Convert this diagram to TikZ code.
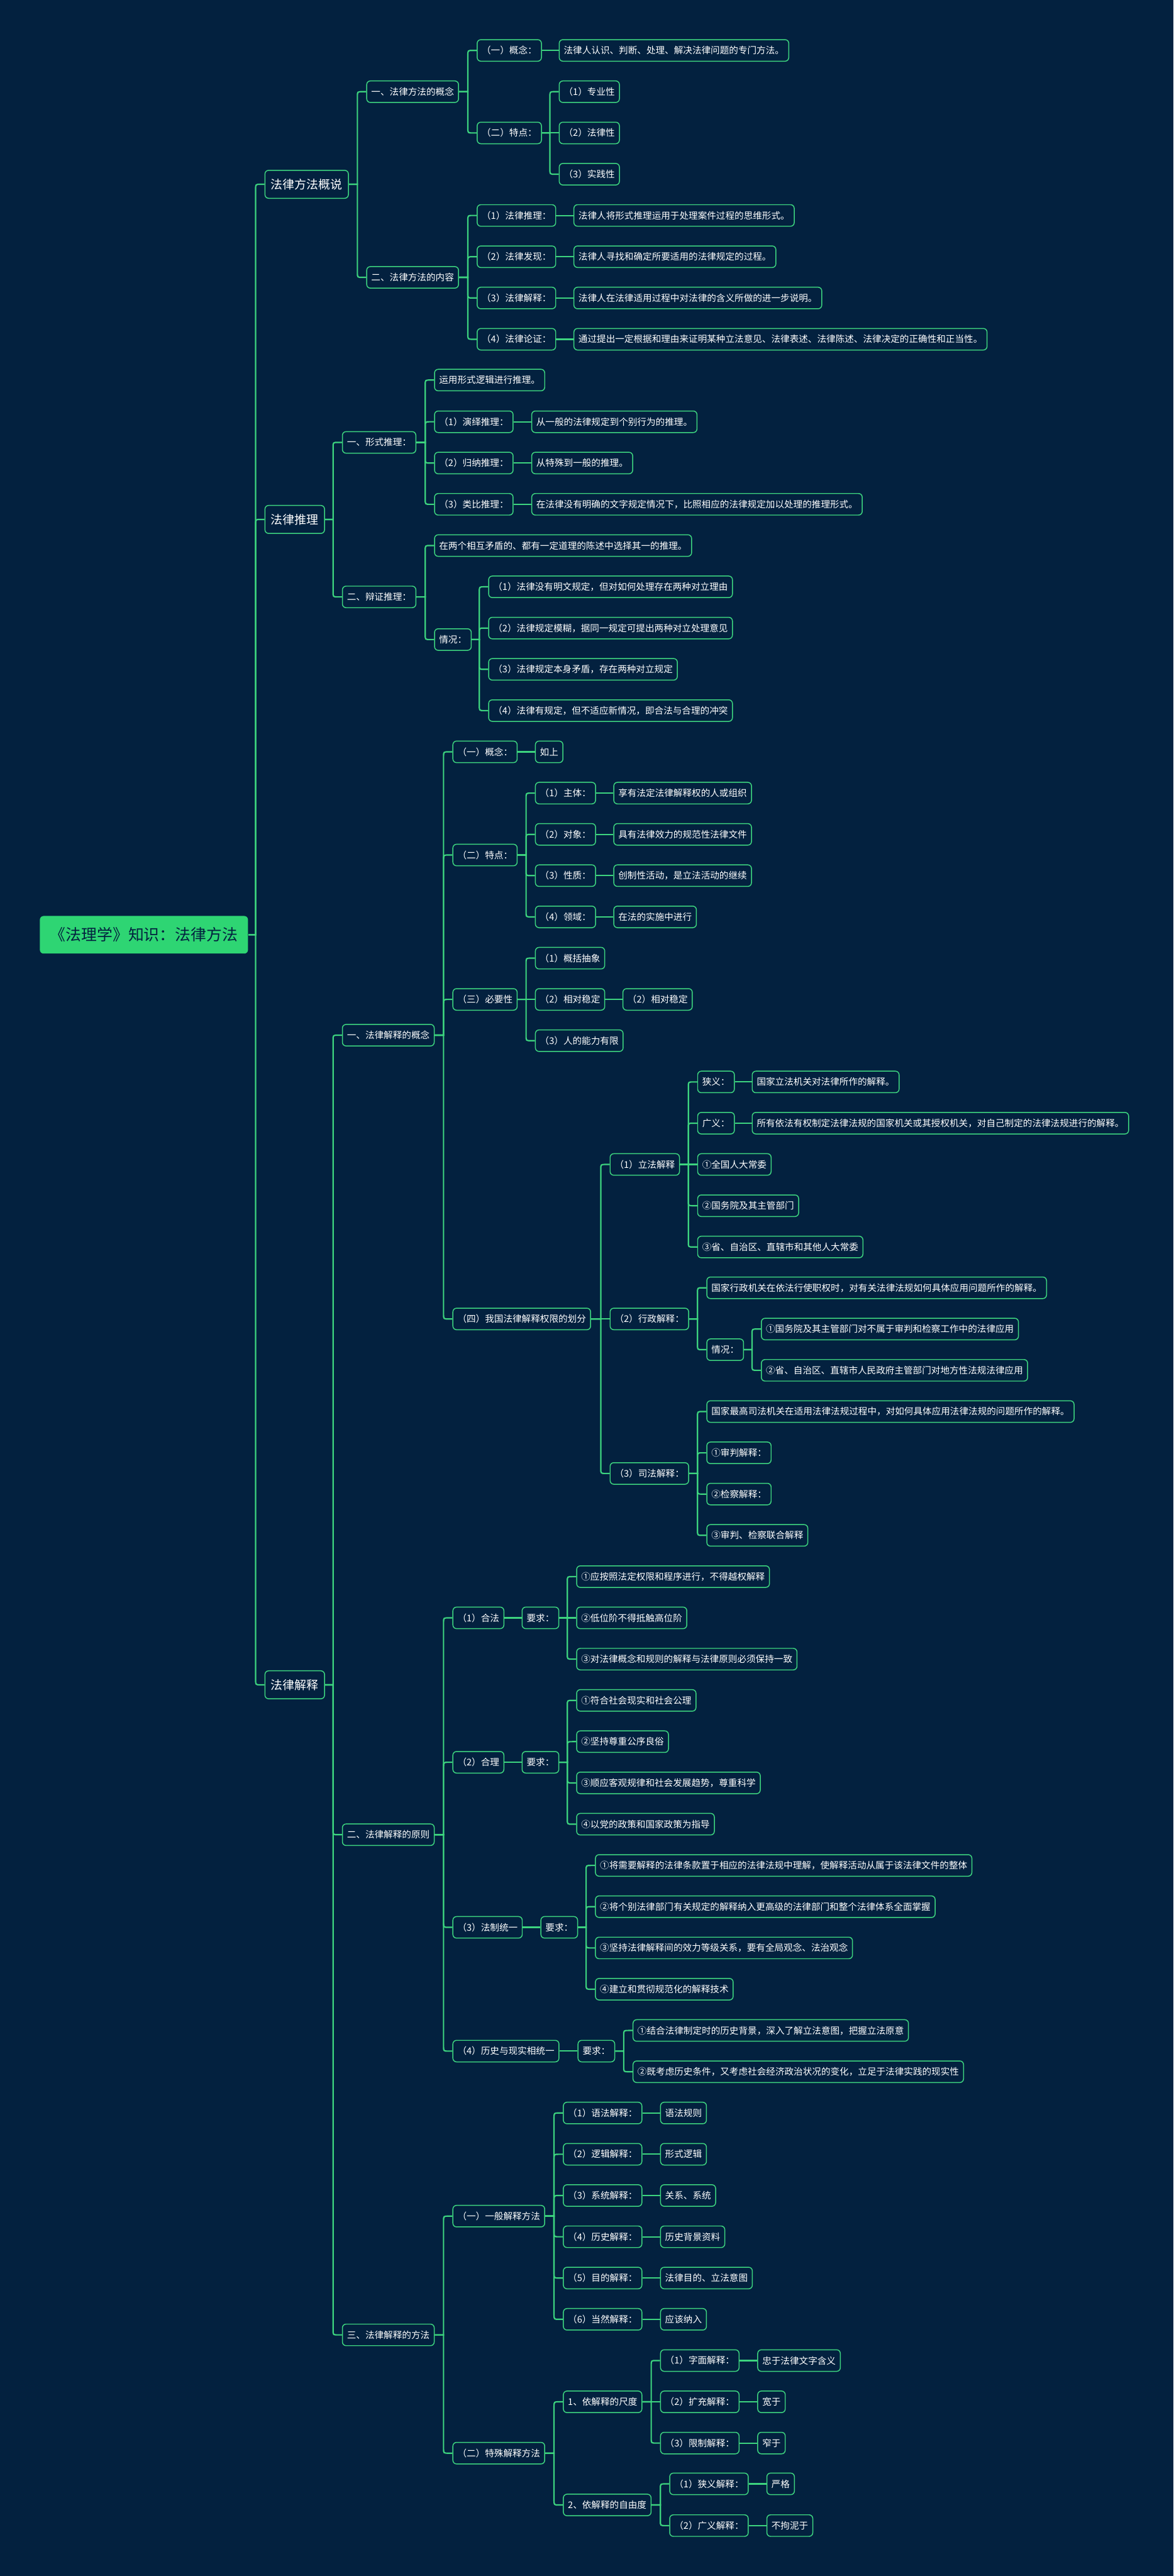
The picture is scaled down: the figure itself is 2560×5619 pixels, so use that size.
\documentclass[tikz,border=0pt]{standalone}
\usepackage{fontspec}
\setmainfont{Noto Sans CJK SC}
\usetikzlibrary{calc}
\definecolor{bgnavy}{HTML}{03213F}
\definecolor{linegreen}{HTML}{3DD47F}
\definecolor{rootgreen}{HTML}{2ED573}
\tikzset{
  box/.style={draw=linegreen, line width=1.15pt, rounded corners=0.16cm, fill=bgnavy,
    text=white, anchor=west, minimum height=0.94cm, inner xsep=0.2cm, inner ysep=0pt,
    font=\fontsize{11.4pt}{13pt}\selectfont},
  topic/.style={box, minimum height=1.22cm, inner xsep=0.26cm, font=\fontsize{14.8pt}{17pt}\selectfont},
  rootbox/.style={box, draw=none, fill=rootgreen, text=bgnavy, minimum height=1.64cm,
    inner xsep=0.45cm, font=\fontsize{19.4pt}{22pt}\selectfont},
  link/.style={draw=linegreen, line width=1.7pt,
    to path={let \p1=(\tikztostart.east), \p2=(\tikztotarget.west),
      \n1={6*sign(round(\y2-\y1))} in
      (\p1) -- ({\x2-11pt},\y1) -- ({\x2-11pt},{\y2-\n1*1pt})
      .. controls ({\x2-11pt},\y2) .. ({\x2-5pt},\y2) -- (\p2)}}
}
\begin{document}
\begin{tikzpicture}[x=0.02cm, y=-0.02cm]
  \useasboundingbox[fill=bgnavy] (0,0) rectangle (2560,5619);
  % root and topics
  \node[rootbox] (law) at (86,2039) {《法理学》知识：法律方法};
  \node[topic] (gs) at (577,402) {法律方法概说};
  \node[topic] (tl) at (577,1133) {法律推理};
  \node[topic] (js) at (577,3675) {法律解释};
  \foreach \t in {gs,tl,js} \draw[link] (law) to (\t);

  % 法律方法概说
  \node[box] (gs1) at (799,200) {一、法律方法的概念};
  \node[box] (gs2) at (799,605) {二、法律方法的内容};
  \node[box] (gs1a) at (1040,110) {（一）概念：};
  \node[box] (gs1a0) at (1219,110) {法律人认识、判断、处理、解决法律问题的专门方法。};
  \node[box] (gs1b) at (1040,290) {（二）特点：};
  \foreach \k/\y/\t in {1/200/专业性, 2/290/法律性, 3/380/实践性} {
    \node[box] (gs1b\k) at (1219,\y) {（\k）\t};
    \draw[link] (gs1b) to (gs1b\k);
  }
  \foreach \k/\y/\t/\d in {
    1/470/法律推理/法律人将形式推理运用于处理案件过程的思维形式。,
    2/560/法律发现/法律人寻找和确定所要适用的法律规定的过程。,
    3/650/法律解释/法律人在法律适用过程中对法律的含义所做的进一步说明。,
    4/740/法律论证/通过提出一定根据和理由来证明某种立法意见、法律表述、法律陈述、法律决定的正确性和正当性。} {
    \node[box] (gs2\k) at (1040,\y) {（\k）\t：};
    \node[box] (gsd\k) at (1251,\y) {\d};
    \draw[link] (gs2) to (gs2\k);
    \draw[link] (gs2\k) to (gsd\k);
  }

  % 法律推理
  \node[box] (tl1) at (746,965) {一、形式推理：};
  \node[box] (tl2) at (746,1302) {二、辩证推理：};
  \node[box] (tl10) at (947,829) {运用形式逻辑进行推理。};
  \foreach \k/\y/\t/\d in {
    1/920/演绎推理/从一般的法律规定到个别行为的推理。,
    2/1010/归纳推理/从特殊到一般的推理。,
    3/1100/类比推理/在法律没有明确的文字规定情况下，比照相应的法律规定加以处理的推理形式。} {
    \node[box] (tl1\k) at (947,\y) {（\k）\t：};
    \node[box] (tld\k) at (1159,\y) {\d};
    \draw[link] (tl1) to (tl1\k);
    \draw[link] (tl1\k) to (tld\k);
  }
  \node[box] (tl20) at (947,1190) {在两个相互矛盾的、都有一定道理的陈述中选择其一的推理。};
  \node[box] (tl2q) at (947,1395) {情况：};
  \foreach \k/\y/\t in {
    1/1280/法律没有明文规定，但对如何处理存在两种对立理由,
    2/1370/法律规定模糊，据同一规定可提出两种对立处理意见,
    3/1460/法律规定本身矛盾，存在两种对立规定,
    4/1550/法律有规定，但不适应新情况，即合法与合理的冲突} {
    \node[box] (tlq\k) at (1065,\y) {（\k）\t};
    \draw[link] (tl2q) to (tlq\k);
  }

  % 法律解释：概念
  \node[box] (js1) at (746,2258) {一、法律解释的概念};
  \node[box] (js2) at (746,4002) {二、法律解释的原则};
  \node[box] (js3) at (746,5093) {三、法律解释的方法};
  \node[box] (js1a) at (987,1640) {（一）概念：};
  \node[box] (js1a0) at (1167,1640) {如上};
  \node[box] (js1b) at (987,1865) {（二）特点：};
  \foreach \k/\y/\t/\d in {
    1/1730/主体/享有法定法律解释权的人或组织,
    2/1820/对象/具有法律效力的规范性法律文件,
    3/1910/性质/创制性活动，是立法活动的继续,
    4/2000/领域/在法的实施中进行} {
    \node[box] (js1b\k) at (1167,\y) {（\k）\t：};
    \node[box] (jsd\k) at (1338,\y) {\d};
    \draw[link] (js1b) to (js1b\k);
    \draw[link] (js1b\k) to (jsd\k);
  }
  \node[box] (js1c) at (987,2180) {（三）必要性};
  \foreach \k/\y/\t in {1/2090/概括抽象, 2/2180/相对稳定, 3/2270/人的能力有限} {
    \node[box] (js1c\k) at (1167,\y) {（\k）\t};
    \draw[link] (js1c) to (js1c\k);
  }
  \node[box] (js1c0) at (1358,2180) {（2）相对稳定};
  \node[box] (js1d) at (987,2877) {（四）我国法律解释权限的划分};
  \node[box] (lf) at (1330,2540) {（1）立法解释};
  \node[box] (xz) at (1330,2877) {（2）行政解释：};
  \node[box] (sf) at (1330,3214) {（3）司法解释：};
  \node[box] (lfn) at (1521,2360) {狭义：};
  \node[box] (lfnd) at (1640,2360) {国家立法机关对法律所作的解释。};
  \node[box] (lfw) at (1521,2450) {广义：};
  \node[box] (lfwd) at (1640,2450) {所有依法有权制定法律法规的国家机关或其授权机关，对自己制定的法律法规进行的解释。};
  \node[box] (lf1) at (1521,2540) {①全国人大常委};
  \node[box] (lf2) at (1521,2630) {②国务院及其主管部门};
  \node[box] (lf3) at (1521,2720) {③省、自治区、直辖市和其他人大常委};
  \node[box] (xz0) at (1541,2809) {国家行政机关在依法行使职权时，对有关法律法规如何具体应用问题所作的解释。};
  \node[box] (xzq) at (1541,2944) {情况：};
  \node[box] (xzq1) at (1660,2899) {①国务院及其主管部门对不属于审判和检察工作中的法律应用};
  \node[box] (xzq2) at (1660,2989) {②省、自治区、直辖市人民政府主管部门对地方性法规法律应用};
  \node[box] (sf0) at (1541,3079) {国家最高司法机关在适用法律法规过程中，对如何具体应用法律法规的问题所作的解释。};
  \node[box] (sf1) at (1541,3169) {①审判解释：};
  \node[box] (sf2) at (1541,3259) {②检察解释：};
  \node[box] (sf3) at (1541,3349) {③审判、检察联合解释};

  % 法律解释：原则
  \node[box] (yz1) at (987,3529) {（1）合法};
  \node[box] (yq1) at (1138,3529) {要求：};
  \foreach \k/\y/\t in {
    1/3439/①应按照法定权限和程序进行，不得越权解释,
    2/3529/②低位阶不得抵触高位阶,
    3/3619/③对法律概念和规则的解释与法律原则必须保持一致} {
    \node[box] (yq1\k) at (1257,\y) {\t};
    \draw[link] (yq1) to (yq1\k);
  }
  \node[box] (yz2) at (987,3844) {（2）合理};
  \node[box] (yq2) at (1138,3844) {要求：};
  \foreach \k/\y/\t in {
    1/3709/①符合社会现实和社会公理,
    2/3799/②坚持尊重公序良俗,
    3/3889/③顺应客观规律和社会发展趋势，尊重科学,
    4/3979/④以党的政策和国家政策为指导} {
    \node[box] (yq2\k) at (1257,\y) {\t};
    \draw[link] (yq2) to (yq2\k);
  }
  \node[box] (yz3) at (987,4204) {（3）法制统一};
  \node[box] (yq3) at (1179,4204) {要求：};
  \foreach \k/\y/\t in {
    1/4069/①将需要解释的法律条款置于相应的法律法规中理解，使解释活动从属于该法律文件的整体,
    2/4159/②将个别法律部门有关规定的解释纳入更高级的法律部门和整个法律体系全面掌握,
    3/4249/③坚持法律解释间的效力等级关系，要有全局观念、法治观念,
    4/4339/④建立和贯彻规范化的解释技术} {
    \node[box] (yq3\k) at (1298,\y) {\t};
    \draw[link] (yq3) to (yq3\k);
  }
  \node[box] (yz4) at (987,4474) {（4）历史与现实相统一};
  \node[box] (yq4) at (1260,4474) {要求：};
  \foreach \k/\y/\t in {
    1/4429/①结合法律制定时的历史背景，深入了解立法意图，把握立法原意,
    2/4519/②既考虑历史条件，又考虑社会经济政治状况的变化，立足于法律实践的现实性} {
    \node[box] (yq4\k) at (1380,\y) {\t};
    \draw[link] (yq4) to (yq4\k);
  }

  % 法律解释：方法
  \node[box] (ff1) at (987,4834) {（一）一般解释方法};
  \node[box] (ff2) at (987,5351) {（二）特殊解释方法};
  \foreach \k/\y/\t/\d in {
    1/4609/语法解释/语法规则, 2/4699/逻辑解释/形式逻辑, 3/4789/系统解释/关系、系统,
    4/4879/历史解释/历史背景资料, 5/4969/目的解释/法律目的、立法意图, 6/5059/当然解释/应该纳入} {
    \node[box] (ff1\k) at (1228,\y) {（\k）\t：};
    \node[box] (ffd\k) at (1440,\y) {\d};
    \draw[link] (ff1) to (ff1\k);
    \draw[link] (ff1\k) to (ffd\k);
  }
  \node[box] (cd) at (1228,5239) {1、依解释的尺度};
  \node[box] (zy) at (1228,5464) {2、依解释的自由度};
  \foreach \k/\y/\t/\d in {1/5149/字面解释/忠于法律文字含义, 2/5239/扩充解释/宽于, 3/5329/限制解释/窄于} {
    \node[box] (cd\k) at (1440,\y) {（\k）\t：};
    \node[box] (cdd\k) at (1652,\y) {\d};
    \draw[link] (cd) to (cd\k);
    \draw[link] (cd\k) to (cdd\k);
  }
  \foreach \k/\y/\t/\d in {1/5418/狭义解释/严格, 2/5509/广义解释/不拘泥于} {
    \node[box] (zy\k) at (1460,\y) {（\k）\t：};
    \node[box] (zyd\k) at (1672,\y) {\d};
    \draw[link] (zy) to (zy\k);
    \draw[link] (zy\k) to (zyd\k);
  }

  % remaining connectors
  \foreach \p/\c in {gs/gs1, gs/gs2, gs1/gs1a, gs1a/gs1a0, gs1/gs1b,
    tl/tl1, tl/tl2, tl1/tl10, tl2/tl20, tl2/tl2q,
    js/js1, js/js2, js/js3, js1/js1a, js1a/js1a0, js1/js1b, js1/js1c, js1c2/js1c0, js1/js1d,
    js1d/lf, js1d/xz, js1d/sf, lf/lfn, lfn/lfnd, lf/lfw, lfw/lfwd, lf/lf1, lf/lf2, lf/lf3,
    xz/xz0, xz/xzq, xzq/xzq1, xzq/xzq2, sf/sf0, sf/sf1, sf/sf2, sf/sf3,
    js2/yz1, yz1/yq1, js2/yz2, yz2/yq2, js2/yz3, yz3/yq3, js2/yz4, yz4/yq4,
    js3/ff1, js3/ff2, ff2/cd, ff2/zy}
    \draw[link] (\p) to (\c);
\end{tikzpicture}
\end{document}
